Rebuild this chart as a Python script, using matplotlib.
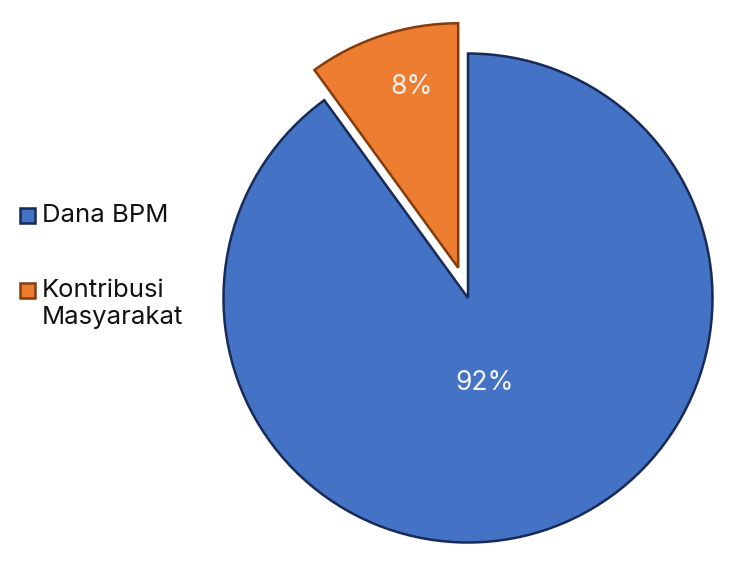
import matplotlib.pyplot as plt
from matplotlib.patches import Rectangle

plt.rcParams['font.family'] = ['Inter', 'DejaVu Sans']

labels = ["Dana BPM", "Kontribusi\nMasyarakat"]
shares = [90, 10]          # angular share
pct_text = ["92%", "8%"]   # labels printed on the wedges
colors = ["#4472C4", "#ED7D31"]
edges = ["#172A58", "#843C0C"]
explode = [0, 0.13]

W, H = 746, 574
cx, cy, R = 468, 574 - 298, 244.5

fig = plt.figure(figsize=(W / 100, H / 100), dpi=100)
ax = fig.add_axes([0, 0, 1, 1])

start = 90 + 360 * shares[1] / sum(shares)
wedges, _ = ax.pie(shares, colors=colors, explode=explode, startangle=start,
                   counterclock=True,
                   wedgeprops=dict(linewidth=1.8))
for w, ec in zip(wedges, edges):
    w.set_edgecolor(ec)

ax.set_xlim(-cx / R, (W - cx) / R)
ax.set_ylim(-cy / R, (H - cy) / R)
ax.set_aspect("equal")
ax.axis("off")

# label offsets from each wedge's own centre (radius units)
offs = [(0.068, -0.348), (-0.19, 0.74)]
for w, t, (dx, dy) in zip(wedges, pct_text, offs):
    x0, y0 = w.center
    ax.text(x0 + dx, y0 + dy, t, color="#F4F4F4", fontsize=19,
            ha="center", va="center")

# legend on the left
rows = [215.5, 290]
for lab, c, ec, y in zip(labels, colors, edges, rows):
    fig.patches.append(Rectangle((20 / W, 1 - (y + 7.5) / H), 15 / W, 15 / H,
                                 facecolor=c, edgecolor=ec, linewidth=1.8,
                                 transform=fig.transFigure))
    fig.text(42 / W, 1 - (y - 11) / H, lab, fontsize=18.5, color="#111111",
             ha="left", va="top", linespacing=1.22)

fig.savefig("out.png", dpi=100)
